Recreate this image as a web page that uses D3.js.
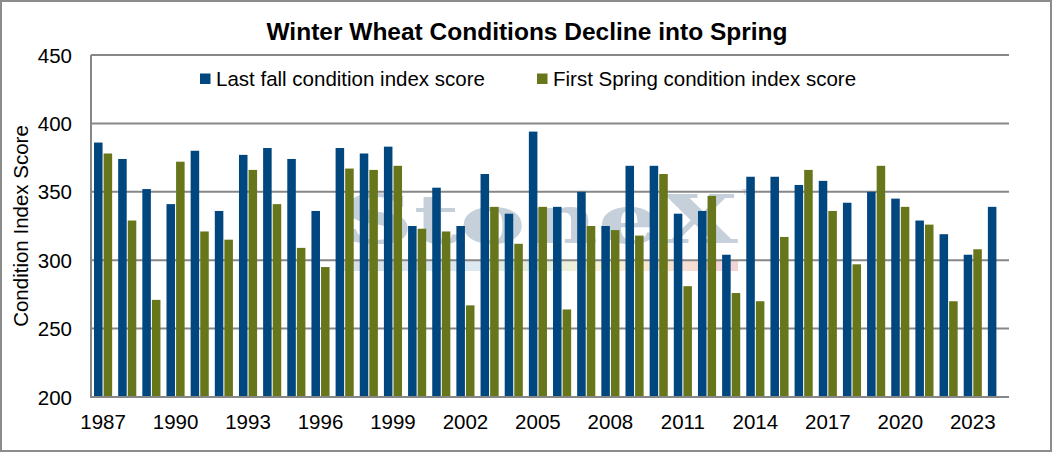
<!DOCTYPE html>
<html>
<head>
<meta charset="utf-8">
<script src="https://cdn.jsdelivr.net/npm/d3@7"></script>
<style>
  body { margin: 0; background: #fff; }
  svg { display: block; font-family: "Liberation Sans", Arial, sans-serif; }
</style>
</head>
<body>
<svg width="1052" height="452"></svg>
<script>
// years on the x axis
var years = [1987, 1988, 1989, 1990, 1991, 1992, 1993, 1994, 1995, 1996,
             1997, 1998, 1999, 2000, 2001, 2002, 2003, 2004, 2005, 2006,
             2007, 2008, 2009, 2010, 2011, 2012, 2013, 2014, 2015, 2016,
             2017, 2018, 2019, 2020, 2021, 2022, 2023, 2024];

var lastFall = [386, 374, 352, 341, 380, 336, 377, 382, 374, 336,
                382, 378, 383, 325, 353, 325, 363, 334, 394, 339,
                350, 325, 369, 369, 334, 336, 304, 361, 361, 355,
                358, 342, 350, 345, 329, 319, 304, 339];

var firstSpring = [378, 329, 271, 372, 321, 315, 366, 341, 309, 295,
                   367, 366, 369, 323, 321, 267, 339, 312, 339, 264,
                   325, 322, 318, 363, 281, 347, 276, 270, 317, 366,
                   336, 297, 369, 339, 326, 270, 308, null];

var yTicks = [200, 250, 300, 350, 400, 450];
var xLabels = [1987, 1990, 1993, 1996, 1999, 2002, 2005, 2008, 2011, 2014, 2017, 2020, 2023];

var seriesNames = ['Last fall condition index score', 'First Spring condition index score'];
var seriesColors = ['#00467f', '#68761b'];

var width = 1052, height = 452;
var margin = {left: 91, right: 43, top: 55, bottom: 55};

var svg = d3.select('svg');

// outer frame
svg.append('rect')
    .attr('x', 1).attr('y', 1)
    .attr('width', width - 2).attr('height', height - 2)
    .style('fill', '#fff')
    .style('stroke', '#8c8c8c')
    .style('stroke-width', 2);

var x = d3.scaleBand()
    .domain(years)
    .range([margin.left, width - margin.right])
    .paddingInner(0.25)
    .paddingOuter(0.125);

var xSub = d3.scaleBand()
    .domain([0, 1])
    .range([0, x.bandwidth()])
    .paddingInner(0.11);

var y = d3.scaleLinear()
    .domain([200, 450])
    .range([height - margin.bottom, margin.top]);

// watermark behind the bars
var wm = svg.append('g');
var grad = svg.append('defs').append('linearGradient').attr('id', 'strip');
[['0%', '#d9dfe6'], ['30%', '#dbe8f3'], ['50%', '#e3eedc'], ['65%', '#f6f3d8'], ['80%', '#f8e6d4'], ['100%', '#f2d2d6']]
    .forEach(function(s) { grad.append('stop').attr('offset', s[0]).attr('stop-color', s[1]); });
wm.append('rect')
    .attr('x', 340).attr('y', 261).attr('width', 398).attr('height', 10)
    .style('fill', 'url(#strip)');
wm.append('text')
    .attr('x', 342).attr('y', 243)
    .attr('textLength', 396)
    .attr('lengthAdjust', 'spacingAndGlyphs')
    .style('font-family', '"DejaVu Serif", serif')
    .style('font-weight', 'bold')
    .style('font-size', '68px')
    .style('fill', '#c6d0db')
    .text('StoneX');
wm.append('text')
    .attr('x', 742).attr('y', 195)
    .style('font-size', '9px')
    .style('fill', '#c6d0db')
    .text('TM');

// gridlines
svg.append('g')
    .selectAll('line')
    .data(yTicks.slice(1))
    .enter()
    .append('line')
    .attr('x1', margin.left)
    .attr('x2', width - margin.right)
    .attr('y1', function(d) { return y(d); })
    .attr('y2', function(d) { return y(d); })
    .style('stroke', '#878787')
    .style('stroke-width', 2);

// bars
var groups = svg.append('g')
    .selectAll('g')
    .data(years)
    .enter()
    .append('g')
    .attr('transform', function(d) { return 'translate(' + x(d) + ',0)'; });

groups.selectAll('rect')
    .data(function(d, i) { return [lastFall[i], firstSpring[i]]; })
    .enter()
    .filter(function(d) { return d != null; })
    .append('rect')
    .attr('x', function(d, j) { return xSub(j); })
    .attr('width', xSub.bandwidth())
    .attr('y', function(d) { return y(d); })
    .attr('height', function(d) { return y(200) - y(d); })
    .style('fill', function(d, j) { return seriesColors[j]; });

// axis lines
svg.append('line')
    .attr('x1', margin.left).attr('x2', margin.left)
    .attr('y1', margin.top).attr('y2', y(200))
    .style('stroke', '#878787').style('stroke-width', 2);
svg.append('line')
    .attr('x1', margin.left - 1).attr('x2', width - margin.right)
    .attr('y1', y(200)).attr('y2', y(200))
    .style('stroke', '#878787').style('stroke-width', 2);

// y tick labels
svg.append('g')
    .selectAll('text')
    .data(yTicks)
    .enter()
    .append('text')
    .attr('x', 72)
    .attr('y', function(d) { return y(d) + 7.5; })
    .attr('text-anchor', 'end')
    .style('font-size', '20.5px')
    .style('fill', '#000')
    .text(function(d) { return d; });

// x tick labels
svg.append('g')
    .selectAll('text')
    .data(xLabels)
    .enter()
    .append('text')
    .attr('x', function(d) { return x(d) + x.bandwidth() / 2; })
    .attr('y', 428.5)
    .attr('text-anchor', 'middle')
    .style('font-size', '20.5px')
    .style('fill', '#000')
    .text(function(d) { return d; });

// y axis title
svg.append('text')
    .attr('transform', 'translate(28,' + 226 + ') rotate(-90)')
    .attr('text-anchor', 'middle')
    .style('font-size', '20.5px')
    .text('Condition Index Score');

// title
svg.append('text')
    .attr('x', 527).attr('y', 39.5)
    .attr('text-anchor', 'middle')
    .style('font-size', '24.5px')
    .style('font-weight', 'bold')
    .text('Winter Wheat Conditions Decline into Spring');

// legend
var legendX = [200, 537];
var legend = svg.append('g')
    .selectAll('g')
    .data(seriesNames)
    .enter()
    .append('g')
    .attr('transform', function(d, i) { return 'translate(' + legendX[i] + ',73.5)'; });
legend.append('rect')
    .attr('width', 10.5).attr('height', 10.5)
    .style('fill', function(d, i) { return seriesColors[i]; });
legend.append('text')
    .attr('x', 16).attr('y', 12.3)
    .style('font-size', '20.5px')
    .text(function(d) { return d; });
</script>
</body>
</html>
